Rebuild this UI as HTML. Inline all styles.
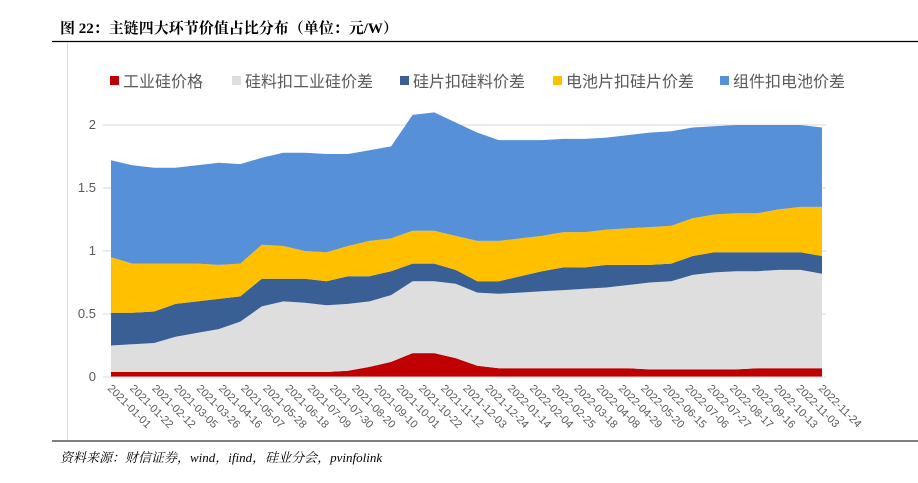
<!DOCTYPE html>
<html><head><meta charset="utf-8"><style>
body{margin:0;background:#fff;width:918px;height:478px;overflow:hidden;font-family:"Liberation Sans","Noto Sans CJK SC",sans-serif}
</style></head><body>
<svg width="918" height="478" xmlns="http://www.w3.org/2000/svg">
<text x="60" y="33" font-size="15" font-weight="bold" fill="#000" font-family="'Liberation Serif','Noto Serif CJK SC',serif">图 22：主链四大环节价值占比分布（单位：元/W）</text>
<line x1="52" y1="41.5" x2="918" y2="41.5" stroke="#000" stroke-width="1.2"/>
<line x1="67.5" y1="42" x2="67.5" y2="440" stroke="#d9d9d9"/>
<g id="grid"></g><g id="areas"></g><g id="axes"></g><g id="legend"></g>
<line x1="52" y1="441" x2="918" y2="441" stroke="#555" stroke-width="1.5"/>
<text x="60" y="462" font-size="13" font-style="italic" fill="#000" font-family="'Liberation Serif','Noto Serif CJK SC',serif">资料来源：财信证券，wind，ifind，硅业分会，pvinfolink</text>
</svg>
<script>
const labels=["2021-01-01","2021-01-22","2021-02-12","2021-03-05","2021-03-26","2021-04-16","2021-05-07","2021-05-28","2021-06-18","2021-07-09","2021-07-30","2021-08-20","2021-09-10","2021-10-01","2021-10-22","2021-11-12","2021-12-03","2021-12-24","2022-01-14","2022-02-04","2022-02-25","2022-03-18","2022-04-08","2022-04-29","2022-05-20","2022-06-15","2022-07-06","2022-07-27","2022-08-17","2022-09-16","2022-10-13","2022-11-03","2022-11-24"];
const seriesNames=["工业硅价格","硅料扣工业硅价差","硅片扣硅料价差","电池片扣硅片价差","组件扣电池价差"];
const colors=["#c00000","#dedede","#3a5f95","#ffc000","#5590d8"];
// cumulative stack tops (evenly spaced samples across the date range)
const top1=[0.04,0.04,0.04,0.04,0.04,0.04,0.04,0.04,0.04,0.04,0.04,0.05,0.08,0.12,0.19,0.19,0.15,0.09,0.07,0.07,0.07,0.07,0.07,0.07,0.07,0.06,0.06,0.06,0.06,0.06,0.07,0.07,0.07,0.07];
const top2=[0.25,0.26,0.27,0.32,0.35,0.38,0.44,0.56,0.60,0.59,0.57,0.58,0.60,0.65,0.76,0.76,0.74,0.67,0.66,0.67,0.68,0.69,0.70,0.71,0.73,0.75,0.76,0.81,0.83,0.84,0.84,0.85,0.85,0.82];
const top3=[0.51,0.51,0.52,0.58,0.60,0.62,0.64,0.78,0.78,0.78,0.76,0.80,0.80,0.84,0.90,0.90,0.85,0.76,0.76,0.80,0.84,0.87,0.87,0.89,0.89,0.89,0.90,0.96,0.99,0.99,0.99,0.99,0.99,0.96];
const top4=[0.95,0.90,0.90,0.90,0.90,0.89,0.90,1.05,1.04,1.00,0.99,1.04,1.08,1.10,1.16,1.16,1.12,1.08,1.08,1.10,1.12,1.15,1.15,1.17,1.18,1.19,1.20,1.26,1.29,1.30,1.30,1.33,1.35,1.35];
const top5=[1.72,1.68,1.66,1.66,1.68,1.70,1.69,1.74,1.78,1.78,1.77,1.77,1.80,1.83,2.08,2.10,2.02,1.94,1.88,1.88,1.88,1.89,1.89,1.90,1.92,1.94,1.95,1.98,1.99,2.00,2.00,2.00,2.00,1.98];
const yTicks=[0,0.5,1,1.5,2];
const NS="http://www.w3.org/2000/svg";
const X0=111,X1=822,Y0=377,Y2=125;
const xd=i=>X0+i*(X1-X0)/(top5.length-1);
const xl=i=>X0+i*(X1-X0)/(labels.length-1);
const ys=v=>Y0-v*(Y0-Y2)/2;
function mk(t,a,p){const e=document.createElementNS(NS,t);for(const k in a)e.setAttribute(k,a[k]);p.appendChild(e);return e;}
const grid=document.getElementById('grid');
yTicks.forEach(v=>{
 const l=mk('line',{x1:X0-8,x2:X1+4,y1:ys(v),y2:ys(v),stroke:'#d9d9d9'},grid);
 
 
 const t=mk('text',{x:96,y:ys(v)+4,'text-anchor':'end','font-size':13,fill:'#595959'},grid);
 t.textContent=v;
 
 
});
const tops=[top1,top2,top3,top4,top5];
const areas=document.getElementById('areas');
tops.forEach((tp,s)=>{
 const lo=s?tops[s-1]:tp.map(()=>0);
 let d='';
 tp.forEach((v,i)=>{d+=(i?'L':'M')+xd(i).toFixed(1)+','+ys(v).toFixed(1);});
 for(let i=lo.length-1;i>=0;i--)d+='L'+xd(i).toFixed(1)+','+ys(lo[i]).toFixed(1);
 const p=mk('path',{d:d+'Z',fill:colors[s]},areas);
 
 
});
const axes=document.getElementById('axes');
const ax=mk('line',{x1:X0,x2:X1,y1:Y0,y2:Y0,stroke:'#d9d9d9'},axes);


labels.forEach((lb,i)=>{
 const x=xl(i);
 const t=mk('text',{x:0,y:0,'font-size':11,fill:'#595959',transform:`translate(${x-4},${Y0+12}) rotate(45)`},axes);
 t.textContent=lb;
 
 
});
const lg=document.getElementById('legend');
const lx=[110,232,400,553,720];
seriesNames.forEach((n,i)=>{
 const r=mk('rect',{x:lx[i],y:76,width:9,height:9,fill:colors[i]},lg);
 
 
 const t=mk('text',{x:lx[i]+13,y:87,'font-size':16,fill:'#595959'},lg);
 t.textContent=n;
 
 
});
</script>
</body></html>
